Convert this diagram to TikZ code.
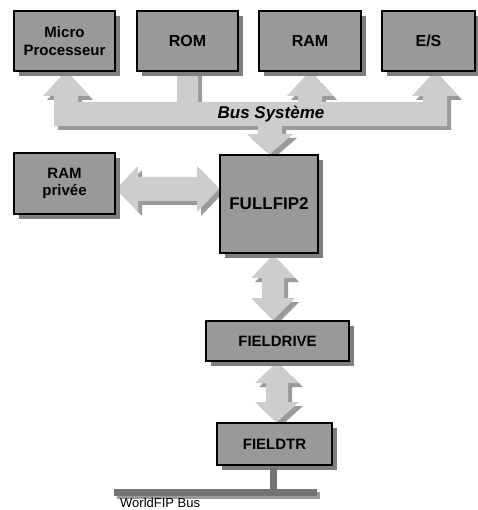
\documentclass[tikz,border=0pt]{standalone}
\usepackage{fontspec}
\setmainfont{Liberation Sans}
\usetikzlibrary{shadows}
\definecolor{boxfill}{HTML}{999999}
\definecolor{boxshadow}{HTML}{7E7E7E}
\definecolor{arrfill}{HTML}{CDCDCD}
\definecolor{arrshadow}{HTML}{9A9A9A}
\definecolor{busdark}{HTML}{737373}
\tikzset{
  box/.style={draw=black, line width=1.4pt, fill=boxfill, align=center, inner sep=0pt,
    font=\bfseries\fontsize{15}{17.5}\selectfont,
    drop shadow={shadow xshift=5pt, shadow yshift=-5pt, fill=boxshadow, opacity=1}},
  arrowshape/.style={fill=arrfill},
  arrowshade/.style={fill=arrshadow, shift={(4,4)}},
}
\begin{document}
\begin{tikzpicture}[x=1pt,y=-1pt]
\useasboundingbox (0,0) rectangle (477,510);
% ---- arrow shapes (shadow first) ----
\def\buspath{(54,126) -- (54,96) -- (43,96) -- (66,71) -- (89,96) -- (78,96) -- (78,102) -- (177,102) -- (177,71) -- (198,71) -- (198,102) -- (298,102) -- (298,96) -- (287,96) -- (310,71) -- (333,96) -- (322,96) -- (322,102) -- (423,102) -- (423,96) -- (412,96) -- (435,71) -- (458,96) -- (447,96) -- (447,126) -- (282,126) -- (282,134) -- (293,134) -- (270,154) -- (247,134) -- (258,134) -- (258,126) -- cycle}
\def\harrow{(116,189) -- (138,166) -- (138,177) -- (197,177) -- (197,166) -- (219,189) -- (197,212) -- (197,201) -- (138,201) -- (138,212) -- cycle}
\def\varrowa{(273,255) -- (295,278) -- (284,278) -- (284,298) -- (295,298) -- (273,320) -- (251,298) -- (262,298) -- (262,278) -- (251,278) -- cycle}
\def\varrowb{(277,362) -- (299,383) -- (288,383) -- (288,402) -- (299,402) -- (277,422) -- (255,402) -- (266,402) -- (266,383) -- (255,383) -- cycle}
\fill[arrowshade] \buspath;
\fill[arrowshade] \harrow;
\fill[arrowshade] \varrowa;
\fill[arrowshade] \varrowb;
\fill[arrowshape] \buspath;
\fill[arrowshape] \harrow;
\fill[arrowshape] \varrowa;
\fill[arrowshape] \varrowb;
% ---- boxes ----
\node[box, minimum width=101pt, minimum height=60pt, font=\bfseries\fontsize{15}{17.5}\selectfont] (micro) at (64.5,41) {Micro\\Processeur};
\node[box, minimum width=101pt, minimum height=60pt, font=\bfseries\fontsize{16}{18}\selectfont] (rom) at (187.5,41) {ROM};
\node[box, minimum width=102pt, minimum height=60pt, font=\bfseries\fontsize{16}{18}\selectfont] (ram) at (310,41) {RAM};
\node[box, minimum width=93pt, minimum height=60pt, font=\bfseries\fontsize{16}{18}\selectfont] (es) at (428.5,41) {E/S};
\node[box, minimum width=101pt, minimum height=61pt] (rampriv) at (64.5,183.5) {RAM\\privée};
\node[box, line width=2.4pt, minimum width=98pt, minimum height=98pt, font=\bfseries\fontsize{17}{19}\selectfont] (fullfip) at (269,204) {FULLFIP2};
\node[box, minimum width=143pt, minimum height=40pt] (fieldrive) at (277.5,341) {FIELDRIVE};
\node[box, minimum width=115pt, minimum height=42pt] (fieldtr) at (274.5,444) {FIELDTR};
\node[font=\bfseries\itshape\fontsize{17}{19}\selectfont, inner sep=0pt] (bus) at (271,114) {Bus Système};
% ---- WorldFIP bus ----
\coordinate (tap) at (273.5,489);
\fill[arrshadow] (117,492) rectangle (320,499);
\fill[busdark] (114,489) rectangle (317,496);
\fill[busdark] (fieldtr.south -| tap) ++(-3.5,1) rectangle (277,489);
\node[anchor=base west, inner sep=0pt, font=\fontsize{13}{15}\selectfont] (wf) at (120,507.5) {WorldFIP Bus};
\end{tikzpicture}
\end{document}
